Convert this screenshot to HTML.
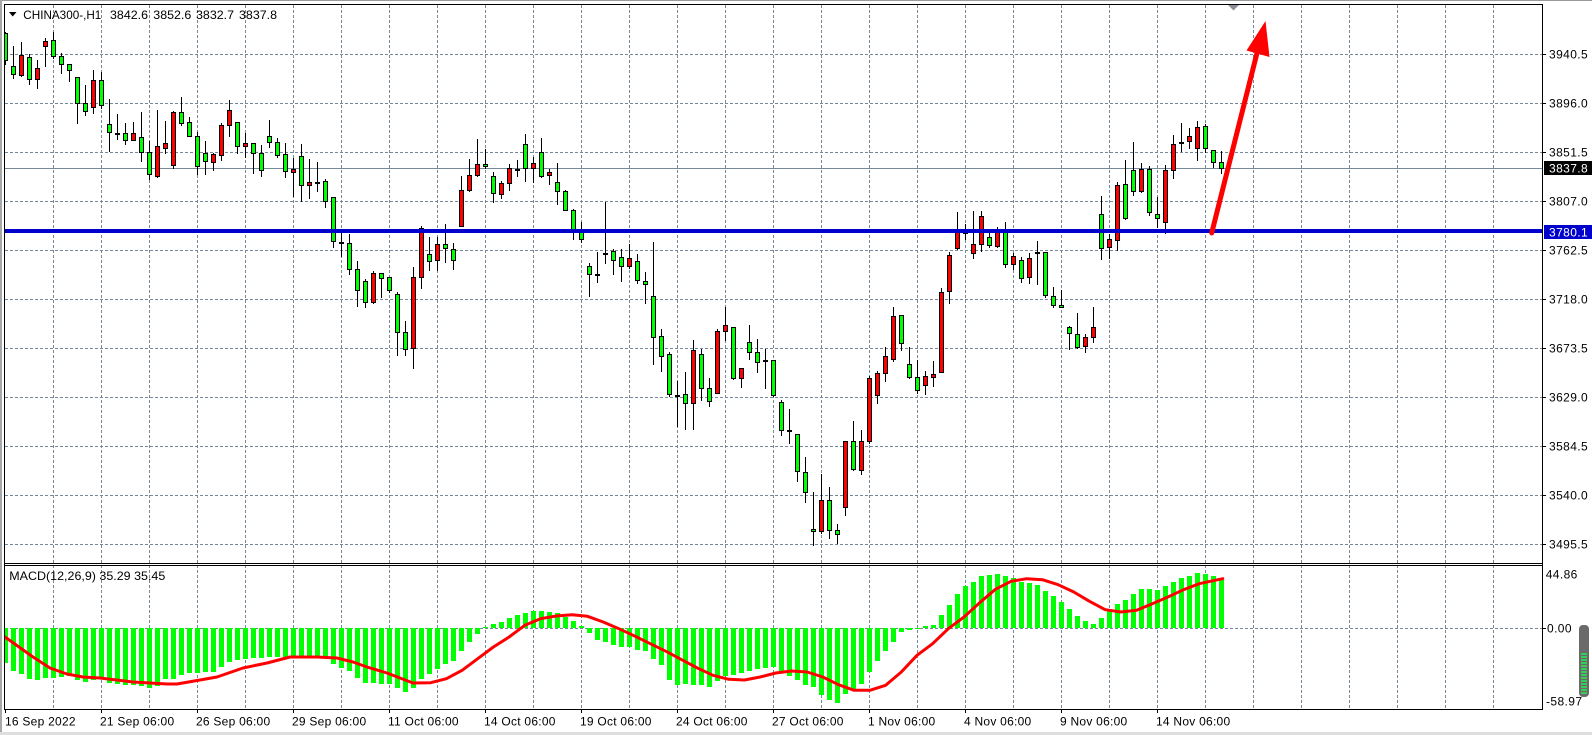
<!DOCTYPE html>
<html><head><meta charset="utf-8"><style>
html,body{margin:0;padding:0;background:#fff;width:1592px;height:735px;overflow:hidden}
svg{display:block}
text{font-family:"Liberation Sans",sans-serif;font-size:12px;fill:#000}
.pl{letter-spacing:0.4px}
.tl{letter-spacing:0.25px}
</style></head><body>
<svg width="1592" height="735" viewBox="0 0 1592 735" xmlns="http://www.w3.org/2000/svg">
<defs>
<clipPath id="cm"><rect x="5" y="5" width="1537" height="558"/></clipPath>
<clipPath id="cd"><rect x="5" y="566" width="1537" height="143"/></clipPath>
</defs>
<rect width="1592" height="735" fill="#fff"/>
<rect x="0" y="0" width="1592" height="1" fill="#9a9a9a"/>
<rect x="0" y="0" width="2" height="735" fill="#a8a8a8"/>
<rect x="0" y="732" width="1592" height="3" fill="#dedede"/>

<!-- grid -->
<g stroke="#778899" stroke-width="1" stroke-dasharray="3 2" fill="none">
<path d="M53.5 5V709M101.5 5V709M149.5 5V709M197.5 5V709M245.5 5V709M293.5 5V709M341.5 5V709M389.5 5V709M437.5 5V709M485.5 5V709M533.5 5V709M581.5 5V709M629.5 5V709M677.5 5V709M725.5 5V709M773.5 5V709M821.5 5V709M869.5 5V709M917.5 5V709M965.5 5V709M1013.5 5V709M1061.5 5V709M1109.5 5V709M1157.5 5V709M1205.5 5V709M1253.5 5V709M1301.5 5V709M1349.5 5V709M1397.5 5V709M1445.5 5V709M1493.5 5V709"/>
<path d="M5 54.5H1542M5 103.5H1542M5 152.5H1542M5 201.5H1542M5 250.5H1542M5 299.5H1542M5 348.5H1542M5 397.5H1542M5 446.5H1542M5 495.5H1542M5 544.5H1542M5 628.5H1542"/>
</g>
<rect x="5" y="168" width="1537" height="1" fill="#778899"/>

<!-- candles -->
<g clip-path="url(#cm)">
<path stroke="#000" stroke-width="1" fill="none" d="M5.5 32V65M13.5 46V79M21.5 42V77M29.5 54V85M37.5 60V89M45.5 38V67M53.5 32V59M61.5 53V74M69.5 64V82M77.5 77V124M85.5 85V116M93.5 70V114M101.5 72V109M109.5 99V152M117.5 114V140M125.5 123V145M133.5 122V141M141.5 112V162M149.5 141V180M157.5 110V178M165.5 121V154M173.5 111V169M181.5 97V126M189.5 117V137M197.5 132V175M205.5 141V175M213.5 153V171M221.5 123V161M229.5 100V137M237.5 122V154M245.5 133V158M253.5 143V174M261.5 145V177M269.5 120V148M277.5 138V158M285.5 143V178M293.5 158V197M301.5 144V202M309.5 159V199M317.5 162V192M325.5 179V208M333.5 197V248M341.5 233V257M349.5 234V275M357.5 261V307M365.5 279V308M373.5 271V304M381.5 273V298M389.5 277V293M397.5 292V356M405.5 321V356M413.5 267V369M421.5 226V289M429.5 237V271M437.5 237V271M445.5 224V263M453.5 243V270M461.5 176V227M469.5 159V192M477.5 139V177M485.5 149V169M493.5 172V203M501.5 181V199M509.5 164V191M517.5 160V177M525.5 134V182M533.5 157V183M541.5 138V178M549.5 169V185M557.5 163V205M565.5 190V211M573.5 209V240M581.5 222V243M589.5 263V297M597.5 252V283M605.5 202V264M613.5 249V275M621.5 249V282M629.5 244V269M637.5 254V284M645.5 272V304M653.5 242V365M661.5 329V372M669.5 352V397M677.5 381V427M685.5 372V430M693.5 340V430M701.5 349V401M709.5 378V407M717.5 329V394M725.5 307V341M733.5 327V380M741.5 368V388M749.5 325V360M757.5 339V373M765.5 349V389M773.5 360V397M781.5 400V436M789.5 409V444M797.5 434V482M805.5 457V503M813.5 492V546M821.5 474V534M829.5 487V539M837.5 524V544M845.5 441V516M853.5 421V471M861.5 430V475M869.5 376V444M877.5 371V404M885.5 347V382M893.5 307V362M901.5 315V351M909.5 347V379M917.5 360V394M925.5 371V395M933.5 361V387M941.5 288V373M949.5 252V304M957.5 212V250M965.5 224V240M973.5 211V259M981.5 211V252M989.5 233V248M997.5 227V248M1005.5 222V268M1013.5 253V270M1021.5 257V283M1029.5 253V284M1037.5 241V285M1045.5 252V298M1053.5 287V308M1061.5 290V308M1069.5 326V350M1077.5 313V349M1085.5 334V353M1093.5 307V343M1101.5 196V260M1109.5 234V259M1117.5 182V251M1125.5 160V220M1133.5 142V196M1141.5 163V193M1149.5 166V216M1157.5 197V228M1165.5 165V234M1173.5 135V179M1181.5 123V152M1189.5 128V149M1197.5 121V161M1205.5 124V153M1213.5 150V168M1221.5 151V174"/>
<g fill="#00ff00" stroke="#000" stroke-width="1">
<rect x="3.5" y="33.5" width="4" height="27"/><rect x="11.5" y="66.5" width="4" height="8"/><rect x="27.5" y="57.5" width="4" height="22"/><rect x="51.5" y="40.5" width="4" height="16"/><rect x="59.5" y="56.5" width="4" height="8"/><rect x="67.5" y="64.5" width="4" height="6"/><rect x="75.5" y="77.5" width="4" height="26"/><rect x="83.5" y="103.5" width="4" height="8"/><rect x="99.5" y="80.5" width="4" height="25"/><rect x="107.5" y="124.5" width="4" height="8"/>
<rect x="123.5" y="133.5" width="4" height="7"/><rect x="139.5" y="137.5" width="4" height="15"/><rect x="147.5" y="152.5" width="4" height="22"/><rect x="179.5" y="112.5" width="4" height="11"/><rect x="187.5" y="122.5" width="4" height="14"/><rect x="195.5" y="136.5" width="4" height="30"/><rect x="203.5" y="153.5" width="4" height="8"/><rect x="235.5" y="122.5" width="4" height="24"/><rect x="251.5" y="143.5" width="4" height="10"/><rect x="259.5" y="153.5" width="4" height="17"/>
<rect x="267.5" y="136.5" width="4" height="6"/><rect x="275.5" y="142.5" width="4" height="13"/><rect x="283.5" y="154.5" width="4" height="17"/><rect x="299.5" y="156.5" width="4" height="29"/><rect x="323.5" y="181.5" width="4" height="20"/><rect x="331.5" y="197.5" width="4" height="44"/><rect x="347.5" y="243.5" width="4" height="26"/><rect x="355.5" y="269.5" width="4" height="21"/><rect x="363.5" y="281.5" width="4" height="21"/><rect x="379.5" y="273.5" width="4" height="5"/>
<rect x="387.5" y="277.5" width="4" height="13"/><rect x="395.5" y="294.5" width="4" height="38"/><rect x="403.5" y="332.5" width="4" height="17"/><rect x="427.5" y="254.5" width="4" height="7"/><rect x="443.5" y="244.5" width="4" height="4"/><rect x="451.5" y="249.5" width="4" height="11"/><rect x="483.5" y="164.5" width="4" height="2"/><rect x="491.5" y="176.5" width="4" height="17"/><rect x="523.5" y="144.5" width="4" height="24"/><rect x="539.5" y="152.5" width="4" height="24"/>
<rect x="555.5" y="182.5" width="4" height="9"/><rect x="563.5" y="191.5" width="4" height="19"/><rect x="571.5" y="210.5" width="4" height="20"/><rect x="579.5" y="231.5" width="4" height="8"/><rect x="587.5" y="266.5" width="4" height="8"/><rect x="611.5" y="251.5" width="4" height="9"/><rect x="619.5" y="257.5" width="4" height="9"/><rect x="635.5" y="261.5" width="4" height="19"/><rect x="643.5" y="281.5" width="4" height="3"/><rect x="651.5" y="296.5" width="4" height="41"/>
<rect x="659.5" y="336.5" width="4" height="20"/><rect x="667.5" y="354.5" width="4" height="40"/><rect x="683.5" y="394.5" width="4" height="9"/><rect x="699.5" y="354.5" width="4" height="34"/><rect x="707.5" y="388.5" width="4" height="13"/><rect x="731.5" y="327.5" width="4" height="51"/><rect x="747.5" y="342.5" width="4" height="10"/><rect x="755.5" y="352.5" width="4" height="10"/><rect x="771.5" y="360.5" width="4" height="35"/><rect x="779.5" y="402.5" width="4" height="28"/>
<rect x="795.5" y="434.5" width="4" height="37"/><rect x="803.5" y="472.5" width="4" height="20"/><rect x="811.5" y="529.5" width="4" height="2"/><rect x="827.5" y="500.5" width="4" height="30"/><rect x="835.5" y="530.5" width="4" height="4"/><rect x="851.5" y="441.5" width="4" height="28"/><rect x="899.5" y="315.5" width="4" height="28"/><rect x="907.5" y="364.5" width="4" height="13"/><rect x="915.5" y="377.5" width="4" height="13"/><rect x="987.5" y="237.5" width="4" height="8"/>
<rect x="1003.5" y="232.5" width="4" height="32"/><rect x="1019.5" y="260.5" width="4" height="18"/><rect x="1043.5" y="252.5" width="4" height="43"/><rect x="1051.5" y="296.5" width="4" height="9"/><rect x="1059.5" y="305.5" width="4" height="2"/><rect x="1067.5" y="327.5" width="4" height="6"/><rect x="1075.5" y="334.5" width="4" height="13"/><rect x="1099.5" y="214.5" width="4" height="34"/><rect x="1123.5" y="184.5" width="4" height="34"/><rect x="1131.5" y="170.5" width="4" height="21"/>
<rect x="1147.5" y="169.5" width="4" height="43"/><rect x="1155.5" y="214.5" width="4" height="4"/><rect x="1203.5" y="126.5" width="4" height="22"/><rect x="1211.5" y="150.5" width="4" height="12"/><rect x="1219.5" y="162.5" width="4" height="6"/>
</g>
<g fill="#ff0000" stroke="#000" stroke-width="1">
<rect x="19.5" y="55.5" width="4" height="20"/><rect x="35.5" y="68.5" width="4" height="11"/><rect x="43.5" y="41.5" width="4" height="5"/><rect x="91.5" y="80.5" width="4" height="27"/><rect x="131.5" y="133.5" width="4" height="7"/><rect x="155.5" y="146.5" width="4" height="30"/><rect x="163.5" y="143.5" width="4" height="5"/><rect x="171.5" y="112.5" width="4" height="53"/><rect x="211.5" y="154.5" width="4" height="8"/><rect x="219.5" y="125.5" width="4" height="30"/>
<rect x="227.5" y="110.5" width="4" height="15"/><rect x="243.5" y="143.5" width="4" height="3"/><rect x="291.5" y="169.5" width="4" height="3"/><rect x="307.5" y="182.5" width="4" height="3"/><rect x="371.5" y="273.5" width="4" height="29"/><rect x="411.5" y="277.5" width="4" height="71"/><rect x="419.5" y="228.5" width="4" height="49"/><rect x="435.5" y="244.5" width="4" height="16"/><rect x="459.5" y="190.5" width="4" height="36"/><rect x="467.5" y="175.5" width="4" height="15"/>
<rect x="475.5" y="164.5" width="4" height="11"/><rect x="499.5" y="183.5" width="4" height="11"/><rect x="507.5" y="168.5" width="4" height="15"/><rect x="531.5" y="163.5" width="4" height="5"/><rect x="547.5" y="172.5" width="4" height="3"/><rect x="627.5" y="258.5" width="4" height="8"/><rect x="691.5" y="350.5" width="4" height="53"/><rect x="715.5" y="331.5" width="4" height="62"/><rect x="723.5" y="325.5" width="4" height="6"/><rect x="739.5" y="368.5" width="4" height="10"/>
<rect x="819.5" y="500.5" width="4" height="31"/><rect x="843.5" y="441.5" width="4" height="66"/><rect x="859.5" y="441.5" width="4" height="29"/><rect x="867.5" y="378.5" width="4" height="63"/><rect x="875.5" y="373.5" width="4" height="22"/><rect x="883.5" y="356.5" width="4" height="17"/><rect x="891.5" y="316.5" width="4" height="43"/><rect x="923.5" y="376.5" width="4" height="9"/><rect x="931.5" y="374.5" width="4" height="3"/><rect x="939.5" y="292.5" width="4" height="80"/>
<rect x="947.5" y="255.5" width="4" height="36"/><rect x="955.5" y="232.5" width="4" height="16"/><rect x="963.5" y="229.5" width="4" height="4"/><rect x="971.5" y="244.5" width="4" height="9"/><rect x="979.5" y="216.5" width="4" height="28"/><rect x="995.5" y="232.5" width="4" height="14"/><rect x="1011.5" y="256.5" width="4" height="8"/><rect x="1027.5" y="258.5" width="4" height="19"/><rect x="1083.5" y="337.5" width="4" height="9"/><rect x="1091.5" y="327.5" width="4" height="10"/>
<rect x="1107.5" y="239.5" width="4" height="8"/><rect x="1115.5" y="185.5" width="4" height="55"/><rect x="1139.5" y="169.5" width="4" height="22"/><rect x="1163.5" y="170.5" width="4" height="52"/><rect x="1171.5" y="144.5" width="4" height="26"/><rect x="1187.5" y="136.5" width="4" height="5"/><rect x="1195.5" y="127.5" width="4" height="21"/>
</g>
<g fill="#000">
<rect x="115" y="133" width="5" height="2"/><rect x="315" y="182" width="5" height="2"/><rect x="339" y="242" width="5" height="2"/><rect x="515" y="169" width="5" height="2"/><rect x="595" y="274" width="5" height="2"/><rect x="603" y="253" width="5" height="2"/><rect x="675" y="395" width="5" height="2"/><rect x="763" y="360" width="5" height="2"/><rect x="787" y="430" width="5" height="2"/><rect x="1035" y="252" width="5" height="2"/><rect x="1179" y="142" width="5" height="2"/>
</g>
<rect x="5" y="229" width="1537" height="4" fill="#0000cd"/>
<line x1="1211.7" y1="233" x2="1257" y2="53" stroke="#ff0000" stroke-width="5" stroke-linecap="round"/>
<polygon points="1265.5,21 1246.5,50.5 1269.5,57" fill="#ff0000"/>
</g>

<!-- MACD -->
<g clip-path="url(#cd)">
<path fill="#00ff00" d="M3 628h5V663h-5zM11 628h5V671h-5zM19 628h5V674h-5zM27 628h5V679h-5zM35 628h5V680h-5zM43 628h5V678h-5zM51 628h5V678h-5zM59 628h5V677h-5zM67 628h5V676h-5zM75 628h5V680h-5zM83 628h5V682h-5zM91 628h5V680h-5zM99 628h5V679h-5zM107 628h5V683h-5zM115 628h5V684h-5zM123 628h5V685h-5zM131 628h5V685h-5zM139 628h5V686h-5zM147 628h5V688h-5zM155 628h5V686h-5zM163 628h5V679h-5zM171 628h5V679h-5zM179 628h5V675h-5zM187 628h5V673h-5zM195 628h5V673h-5zM203 628h5V672h-5zM211 628h5V672h-5zM219 628h5V667h-5zM227 628h5V662h-5zM235 628h5V660h-5zM243 628h5V659h-5zM251 628h5V658h-5zM259 628h5V658h-5zM267 628h5V657h-5zM275 628h5V657h-5zM283 628h5V657h-5zM291 628h5V657h-5zM299 628h5V657h-5zM307 628h5V657h-5zM315 628h5V657h-5zM323 628h5V658h-5zM331 628h5V664h-5zM339 628h5V668h-5zM347 628h5V671h-5zM355 628h5V678h-5zM363 628h5V683h-5zM371 628h5V683h-5zM379 628h5V684h-5zM387 628h5V684h-5zM395 628h5V688h-5zM403 628h5V692h-5zM411 628h5V688h-5zM419 628h5V679h-5zM427 628h5V674h-5zM435 628h5V669h-5zM443 628h5V664h-5zM451 628h5V661h-5zM459 628h5V651h-5zM467 628h5V642h-5zM475 628h5V634h-5zM483 628h5V627h-5zM491 628h5V624h-5zM499 628h5V622h-5zM507 628h5V618h-5zM515 628h5V615h-5zM523 628h5V613h-5zM531 628h5V611h-5zM539 628h5V611h-5zM547 628h5V612h-5zM555 628h5V613h-5zM563 628h5V617h-5zM571 628h5V621h-5zM579 628h5V626h-5zM587 628h5V633h-5zM595 628h5V640h-5zM603 628h5V642h-5zM611 628h5V645h-5zM619 628h5V647h-5zM627 628h5V647h-5zM635 628h5V650h-5zM643 628h5V651h-5zM651 628h5V659h-5zM659 628h5V665h-5zM667 628h5V680h-5zM675 628h5V685h-5zM683 628h5V684h-5zM691 628h5V685h-5zM699 628h5V685h-5zM707 628h5V687h-5zM715 628h5V681h-5zM723 628h5V676h-5zM731 628h5V675h-5zM739 628h5V673h-5zM747 628h5V671h-5zM755 628h5V669h-5zM763 628h5V668h-5zM771 628h5V667h-5zM779 628h5V672h-5zM787 628h5V676h-5zM795 628h5V680h-5zM803 628h5V685h-5zM811 628h5V687h-5zM819 628h5V695h-5zM827 628h5V700h-5zM835 628h5V703h-5zM843 628h5V694h-5zM851 628h5V690h-5zM859 628h5V684h-5zM867 628h5V672h-5zM875 628h5V661h-5zM883 628h5V651h-5zM891 628h5V642h-5zM899 628h5V632h-5zM907 628h5V630h-5zM915 628h5V629h-5zM923 628h5V626h-5zM931 628h5V625h-5zM939 628h5V615h-5zM947 628h5V605h-5zM955 628h5V594h-5zM963 628h5V586h-5zM971 628h5V582h-5zM979 628h5V576h-5zM987 628h5V575h-5zM995 628h5V574h-5zM1003 628h5V576h-5zM1011 628h5V578h-5zM1019 628h5V582h-5zM1027 628h5V583h-5zM1035 628h5V585h-5zM1043 628h5V591h-5zM1051 628h5V596h-5zM1059 628h5V602h-5zM1067 628h5V609h-5zM1075 628h5V616h-5zM1083 628h5V621h-5zM1091 628h5V624h-5zM1099 628h5V618h-5zM1107 628h5V610h-5zM1115 628h5V604h-5zM1123 628h5V600h-5zM1131 628h5V594h-5zM1139 628h5V589h-5zM1147 628h5V589h-5zM1155 628h5V590h-5zM1163 628h5V586h-5zM1171 628h5V582h-5zM1179 628h5V578h-5zM1187 628h5V576h-5zM1195 628h5V573h-5zM1203 628h5V574h-5zM1211 628h5V576h-5zM1219 628h5V580h-5z"/>
<polyline fill="none" stroke="#ff0000" stroke-width="3" stroke-linejoin="round" stroke-linecap="round" points="5,637 33,657 50,668 67,674 83,677 100,678 133,682 167,684 177,684 200,680 217,677 243,668 267,663 290,657 317,657 337,658 353,662 367,667 387,673 413,683 430.7,682.7 446.4,678.7 462.1,670.3 477.7,658.7 493.4,647 509.1,637 524.8,625.3 540.5,618.7 556.2,616 571.9,614.7 587.5,616.3 603.2,622 618.9,628.7 634.6,636 650.3,643.7 666,651.3 681.7,659.7 697.4,668 713,675.3 728.7,679.3 744.4,680 760.1,677 775.8,673 791.5,671 807.2,672 822.8,677 838.5,684.7 854.2,690.3 869.9,690.3 885.6,685.3 901.3,672 917,655.3 932.6,643.7 948.3,628.7 964,617 979.7,602.7 995.4,589.3 1011.1,581.3 1026.8,578.7 1042.5,579.7 1058.1,584.7 1073.8,592 1089.5,601.3 1105.2,609.7 1120.9,612 1136.6,610.3 1152.3,603.7 1167.9,597 1183.6,589.7 1199.3,583.7 1215,580.3 1222.8,578.7"/>
</g>

<!-- borders -->
<g fill="#000">
<rect x="4" y="4" width="1539" height="1"/>
<rect x="4" y="4" width="1" height="706"/>
<rect x="1542" y="4" width="1" height="706"/>
<rect x="4" y="563" width="1539" height="1"/>
<rect x="4" y="565" width="1539" height="1"/>
<rect x="4" y="709" width="1539" height="1"/>
</g>
<polygon points="1228,5 1239,5 1233.5,10.5" fill="#8a8f96"/>

<!-- axis ticks -->
<path stroke="#000" stroke-width="1" d="M1543 54.5h3M1543 103.5h3M1543 152.5h3M1543 201.5h3M1543 250.5h3M1543 299.5h3M1543 348.5h3M1543 397.5h3M1543 446.5h3M1543 495.5h3M1543 544.5h3M1543 628.5h3M5.5 710v3M101.5 710v3M197.5 710v3M293.5 710v3M389.5 710v3M485.5 710v3M581.5 710v3M677.5 710v3M773.5 710v3M869.5 710v3M965.5 710v3M1061.5 710v3M1157.5 710v3"/>

<!-- title -->
<polygon points="9,12 16.5,12 12.75,16.5" fill="#000"/>
<text x="23.3" y="19" textLength="78" lengthAdjust="spacingAndGlyphs">CHINA300-,H1</text>
<text x="110" y="19" textLength="38" lengthAdjust="spacingAndGlyphs">3842.6</text>
<text x="153.3" y="19" textLength="38" lengthAdjust="spacingAndGlyphs">3852.6</text>
<text x="196" y="19" textLength="38" lengthAdjust="spacingAndGlyphs">3832.7</text>
<text x="239" y="19" textLength="38" lengthAdjust="spacingAndGlyphs">3837.8</text>
<text x="9.3" y="580" textLength="156" lengthAdjust="spacingAndGlyphs">MACD(12,26,9) 35.29 35.45</text>

<!-- price labels -->
<g class="pl">
<text x="1549" y="58.7">3940.5</text>
<text x="1549" y="107.7">3896.0</text>
<text x="1549" y="156.7">3851.5</text>
<text x="1549" y="205.7">3807.0</text>
<text x="1549" y="254.7">3762.5</text>
<text x="1549" y="303.7">3718.0</text>
<text x="1549" y="352.7">3673.5</text>
<text x="1549" y="401.7">3629.0</text>
<text x="1549" y="450.7">3584.5</text>
<text x="1549" y="499.7">3540.0</text>
<text x="1549" y="548.7">3495.5</text>
<text x="1545.7" y="578.3">44.86</text>
<text x="1547" y="632.7">0.00</text>
<text x="1546" y="705.7">-58.97</text>
</g>
<rect x="1544" y="161" width="48" height="14" fill="#000"/>
<text x="1549" y="172.7" class="pl" style="fill:#fff">3837.8</text>
<rect x="1544" y="225" width="48" height="14" fill="#0000cd"/>
<text x="1549" y="236.7" class="pl" style="fill:#fff">3780.1</text>

<!-- gauge -->
<rect x="1579" y="625" width="10" height="72" rx="4" fill="#6a6a6a"/>
<g fill="#33cc55">
<rect x="1581" y="653" width="6" height="2"/><rect x="1581" y="656" width="6" height="2"/><rect x="1581" y="659" width="6" height="2"/><rect x="1581" y="662" width="6" height="2"/><rect x="1581" y="665" width="6" height="2"/><rect x="1581" y="668" width="6" height="2"/><rect x="1581" y="671" width="6" height="2"/><rect x="1581" y="674" width="6" height="2"/><rect x="1581" y="677" width="6" height="2"/><rect x="1581" y="680" width="6" height="2"/><rect x="1581" y="683" width="6" height="2"/><rect x="1581" y="686" width="6" height="2"/><rect x="1581" y="689" width="6" height="2"/><rect x="1581" y="692" width="6" height="2"/>
</g>

<!-- time labels -->
<g class="tl">
<text x="5" y="725.3">16 Sep 2022</text>
<text x="100" y="725.3">21 Sep 06:00</text>
<text x="196" y="725.3">26 Sep 06:00</text>
<text x="292" y="725.3">29 Sep 06:00</text>
<text x="388" y="725.3">11 Oct 06:00</text>
<text x="484" y="725.3">14 Oct 06:00</text>
<text x="580" y="725.3">19 Oct 06:00</text>
<text x="676" y="725.3">24 Oct 06:00</text>
<text x="772" y="725.3">27 Oct 06:00</text>
<text x="868" y="725.3">1 Nov 06:00</text>
<text x="964" y="725.3">4 Nov 06:00</text>
<text x="1060" y="725.3">9 Nov 06:00</text>
<text x="1156" y="725.3">14 Nov 06:00</text>
</g>
</svg>
</body></html>
